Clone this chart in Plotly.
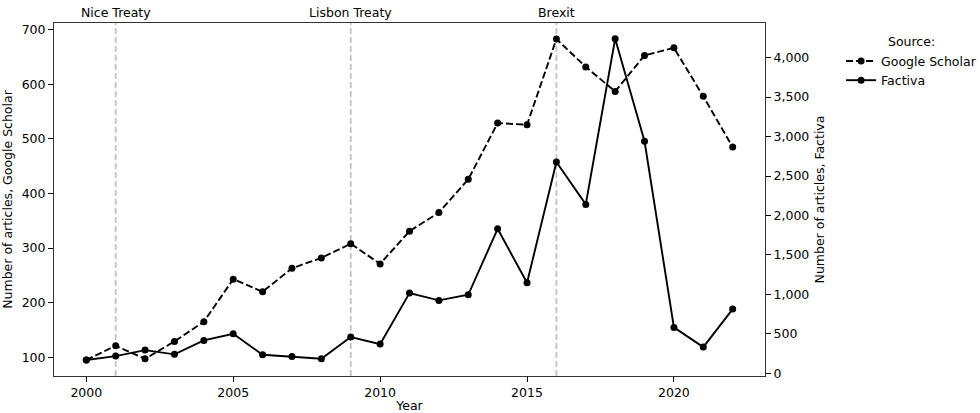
import plotly.graph_objects as go

# Article counts per year from two sources
years = list(range(2000, 2023))
google_scholar = [95, 121, 97, 129, 165, 243, 220, 263, 282, 308, 271, 331,
                  365, 426, 529, 526, 683, 632, 587, 653, 667, 578, 485]
factiva = [169, 219, 295, 241, 418, 502, 236, 215, 185, 460, 371, 1017,
           925, 996, 1832, 1148, 2677, 2141, 4240, 2940, 583, 333, 815]

# Key events marked with vertical lines
event_years = [2001, 2009, 2016]
event_labels = ["Nice Treaty", "Lisbon Treaty", "Brexit"]

FONT = "DejaVu Sans"
FS = 12.5

fig = go.Figure()

fig.add_trace(go.Scatter(
    x=years, y=google_scholar, name="Google Scholar", mode="lines+markers",
    line=dict(color="black", width=1.9, dash="7px,3px"),
    marker=dict(color="black", size=7), yaxis="y",
))
fig.add_trace(go.Scatter(
    x=years, y=factiva, name="Factiva", mode="lines+markers",
    line=dict(color="black", width=1.9),
    marker=dict(color="black", size=7), yaxis="y2",
))

for yr, lab in zip(event_years, event_labels):
    fig.add_shape(type="line", xref="x", yref="paper", x0=yr, x1=yr, y0=0, y1=1,
                  line=dict(color="#c4c4c4", width=1.8, dash="6px,3px"), layer="below")
    fig.add_annotation(x=yr, xref="x", y=1, yref="paper", text=lab, showarrow=False,
                       yanchor="bottom", yshift=1, font=dict(family=FONT, size=FS, color="black"))

axis_common = dict(showline=True, linecolor="#333", linewidth=1, ticks="outside",
                   ticklen=5, tickwidth=1, tickcolor="black", showgrid=False,
                   zeroline=False, automargin=False,
                   tickfont=dict(family=FONT, size=FS, color="black"))

fig.update_layout(
    width=980, height=413,
    margin=dict(l=54, r=215, t=23, b=37, autoexpand=False),
    plot_bgcolor="white", paper_bgcolor="white",
    font=dict(family=FONT, size=FS, color="black"),
    xaxis=dict(range=[1998.9, 2023.1], tickvals=[2000, 2005, 2010, 2015, 2020],
               mirror=True, title=dict(text="Year", standoff=2,
                                        font=dict(family=FONT, size=FS)),
               **axis_common),
    yaxis=dict(range=[65.6, 712.4], tickvals=[100, 200, 300, 400, 500, 600, 700],
               title=dict(text="Number of articles, Google Scholar", standoff=6,
                          font=dict(family=FONT, size=FS)),
               **axis_common),
    yaxis2=dict(range=[-33, 4439], overlaying="y", side="right",
                tickvals=[0, 500, 1000, 1500, 2000, 2500, 3000, 3500, 4000],
                tickformat=",", title=dict(text="Number of articles, Factiva", standoff=6,
                                           font=dict(family=FONT, size=FS)),
                **axis_common),
    legend=dict(x=1.107, y=0.98, xanchor="left", yanchor="top",
                title=dict(text="Source:", side="top center", font=dict(family=FONT, size=FS)),
                font=dict(family=FONT, size=FS), bgcolor="rgba(0,0,0,0)",
                tracegroupgap=0, itemwidth=30),
    showlegend=True,
)

fig.write_html("out.html")
